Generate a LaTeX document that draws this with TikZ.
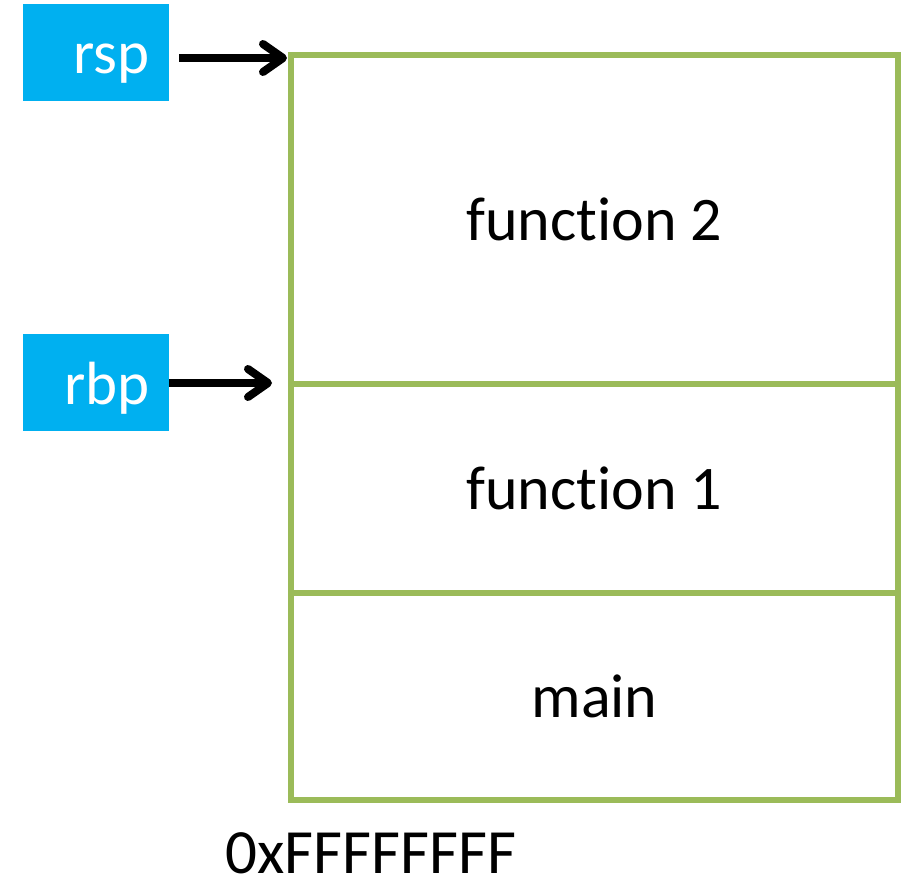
\documentclass[tikz,border=0pt]{standalone}
\usepackage{fontspec}
\setmainfont{Carlito}[Ligatures=NoCommon]
\usetikzlibrary{arrows.meta}
\definecolor{regblue}{HTML}{00B0F0}
\definecolor{framegreen}{HTML}{9BBB59}
% keep t and i apart (the font would join them)
\newcommand{\fnword}{funct\kern0pt ion}
\begin{document}
\begin{tikzpicture}[x=1pt,y=-1pt,
  frame/.style={draw=framegreen, line width=5.5pt, minimum width=607pt, inner sep=0pt,
    font=\fontsize{62}{70}\selectfont},
  regbox/.style={fill=regblue, minimum width=146pt, minimum height=97pt, inner sep=0pt},
  reglabel/.style={anchor=base east, inner sep=0pt, text=white, font=\fontsize{61}{70}\selectfont},
  ptr/.style={line width=8pt, -{Straight Barb[length=20pt,width=28pt,round]}}]
\useasboundingbox (0,0) rectangle (907,882);
% stack frames
\node[frame, minimum height=329pt] (f2) at (594.5,219.5) {\fnword{} 2};
\node[frame, minimum height=209pt] (f1) at (594.5,488.5) {\fnword{} 1};
\node[frame, minimum height=207pt] (mn) at (594.5,696.5) {main};
\node[anchor=base, inner sep=0pt, font=\fontsize{63}{70}\selectfont] (addr) at (371,873) {0xFFFFFFFF};
% registers
\node[regbox] (rspbox) at (96,52.5) {};
\node[reglabel] (rsp) at (150,74) {rsp};
\node[regbox] (rbpbox) at (96,382.5) {};
\node[reglabel] (rbp) at (150,404) {rbp};
% pointers
\coordinate (rspfrom) at (179,58);
\coordinate (rspto) at (287,58);
\coordinate (rbpto) at (272,383);
\draw[ptr] (rspfrom) -- (rspto);
\draw[ptr] (rbpbox.east |- rbpto) -- (rbpto);
\end{tikzpicture}
\end{document}
